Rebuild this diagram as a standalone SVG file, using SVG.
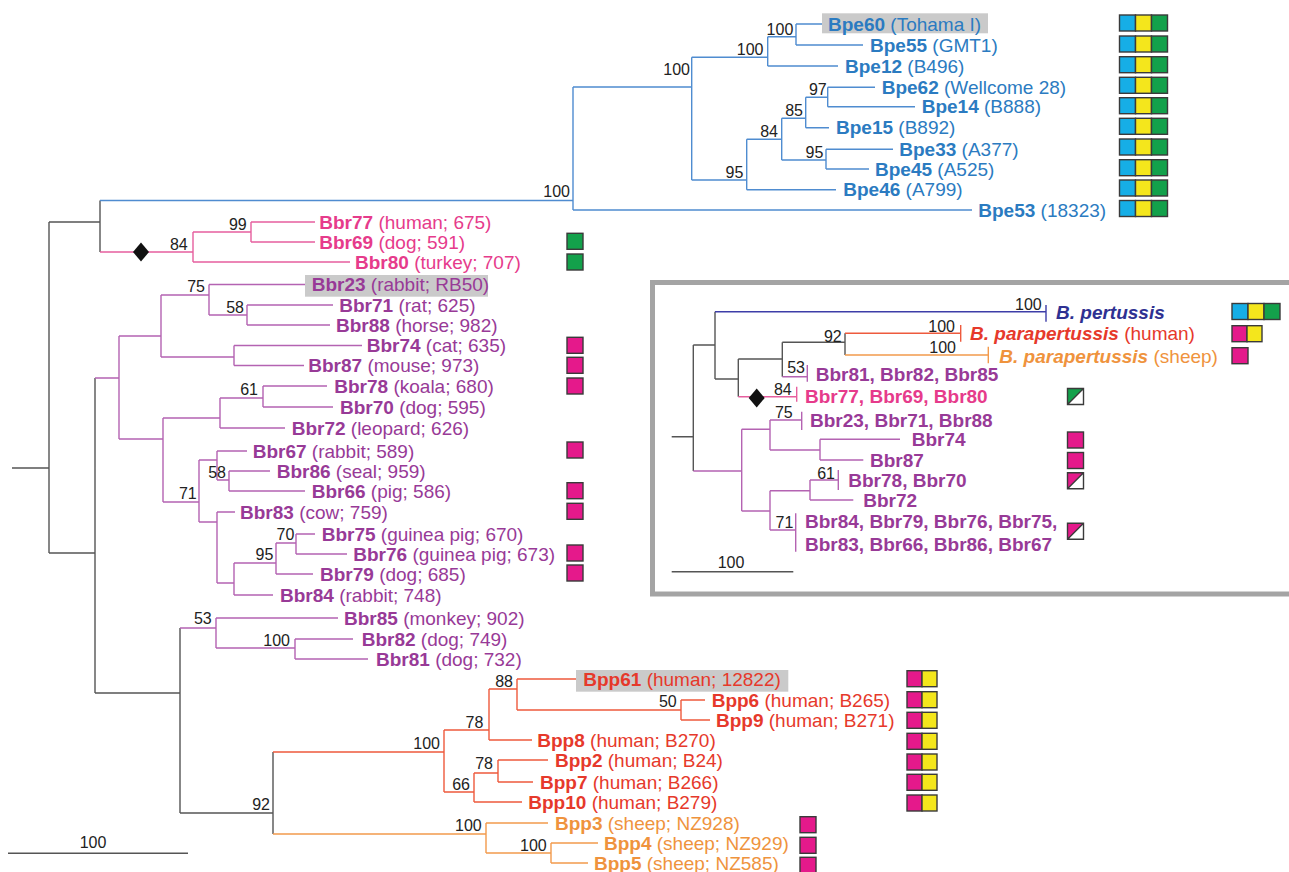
<svg xmlns="http://www.w3.org/2000/svg" xmlns:xlink="http://www.w3.org/1999/xlink" width="1289" height="872" viewBox="0 0 1289 872">
<style>
text{font-family:"Liberation Sans",Arial,sans-serif;font-size:19px}
.bs{font-size:16px;fill:#222;text-anchor:end}
.sc{font-size:16px;fill:#222;text-anchor:middle}
.b{font-weight:bold}
.bi{font-weight:bold;font-style:italic}
.tbpe{fill:#2b7bc1}.tpk{fill:#e63b8b}.tpu{fill:#983a97}.tred{fill:#e6392b}.torg{fill:#ef933d}.tnav{fill:#2e3192}
path{fill:none;stroke-width:1.4}
.lg{stroke:#555}.lb{stroke:#4f8cd0}.lp{stroke:#e65f9e}.lu{stroke:#b463b2}.lr{stroke:#ee5a3d}.lo{stroke:#f29a4c}.ln{stroke:#3d3da8}
.hl{fill:#cacaca}
.cell{stroke:#3a3a3a;stroke-width:1.4}
.cy{fill:#16aee6}.ye{fill:#f4e61c}.gr{fill:#13a14b}.mg{fill:#e5198b}.wh{fill:#fff}
.dk{fill:#111}
.dg{stroke:#3a3a3a}
</style>
<defs>
<g id="box3"><rect class="cell cy" x="0" y="0" width="16" height="16"/><rect class="cell ye" x="16" y="0" width="16" height="16"/><rect class="cell gr" x="32" y="0" width="16" height="16"/></g>
<g id="box2"><rect class="cell mg" x="0" y="0" width="15" height="16"/><rect class="cell ye" x="15" y="0" width="15" height="16"/></g>
<rect id="boxM" class="cell mg" x="0" y="0" width="16" height="16"/>
<rect id="boxG" class="cell gr" x="0" y="0" width="16" height="16"/>
<g id="diagG"><rect class="wh" x="0" y="0" width="16" height="16"/><polygon class="gr" points="0,0 16,0 0,16"/><path class="dg" d="M0 16L16 0M0 0H16V16H0Z"/></g>
<g id="diagM"><rect class="wh" x="0" y="0" width="16" height="16"/><polygon class="mg" points="0,0 16,0 0,16"/><path class="dg" d="M0 16L16 0M0 0H16V16H0Z"/></g>
<polygon id="dia" class="dk" points="0,-9.5 8,0 0,9.5 -8,0"/>
</defs>

<g id="connectors">
<path class="lg" d="M12 468H49M49 222V553M49 222H100M49 553H95M100 200.5V252M95 378V693M95 693H180M180 628V813M180 813H273M273 752V834"/>
<path class="lb" d="M100 200.5H573M573 87V210M573 87H691.7M691.7 57.3V180M691.7 57.3H767.7M767.7 36.7V66M767.7 36.7H796M796 24V45M796 24H822M796 45H863M767.7 66H838M691.7 180H746.7M746.7 139.3V189.7M746.7 139.3H781.7M781.7 118.3V160M781.7 118.3H805.7M805.7 97.3V127.7M805.7 97.3H827.7M827.7 87.3V106.7M827.7 87.3H875M827.7 106.7H915M805.7 127.7H829M781.7 160H826M826 149.3V169M826 149.3H893M826 169H869M746.7 189.7H836M573 210H972"/>
<path class="lp" d="M100 252H193M193 232V262M193 232H251M251 222V242M251 222H315M251 242H315M193 262H350"/>
<path class="lu" d="M95 378H119M119 336V439M119 336H161M161 295V357M161 295H209M209 284.5V315M209 284.5H305M209 315H247M247 305V325M247 305H333M247 325H330M161 357H234M234 345.5V365.5M234 345.5H362M234 365.5H304M119 439H163M163 418V502M163 418H220M220 398V428M220 398H263M263 386V407M263 386H327M263 407H333M220 428H285M163 502H199M199 460V522M199 460H217M217 451V480M217 451H247M217 480H229M229 471V491M229 471H270M229 491H305M199 522H217M217 512V583M217 512H235M217 583H234M234 563V595M234 563H276M276 543V574M276 543H296M296 534V554M296 534H315M296 554H347M276 574H313M234 595H273M180 628H216M216 618V648M216 618H338M216 648H295M295 639V659M295 639H353M295 659H368"/>
<path class="lr" d="M273 752H444M444 730V792M444 730H489M489 689V740M489 689H517M517 679V710M517 679H576M517 710H681M681 700V720M681 700H705M681 720H710M489 740H532M444 792H474M474 773V802M474 773H498M498 760V782M498 760H548M498 782H533M474 802H522"/>
<path class="lo" d="M273 834H486M486 823V853M486 823H548M486 853H551M551 843V863M551 843H598M551 863H588"/>
<path class="lg" d="M8 853.3H188"/>
<path class="lg" d="M671.7 436.7H693.3M693.3 345V471M693.3 345H715M715 311.7V379M715 379H738.3M738.3 359V396.7M738.3 359H782.3M782.3 342.3V376.7M782.3 342.3H845M845 333.3V355M671.7 571.7H793.3"/>
<path class="ln" d="M715 311.7H1046M1046 305V321.7"/>
<path class="lr" d="M845 333.3H960.7M960.7 325V341.7"/>
<path class="lo" d="M845 355H988.3M988.3 346.7V363.3"/>
<path class="lp" d="M738.3 396.7H796.7M796.7 386.7V401.7"/>
<path class="lu" d="M782.3 376.7H807.3M807.3 365V381.7M693.3 471H741.7M741.7 429.3V511M741.7 429.3H770M770 420V450M770 420H801.7M801.7 411.7V430M770 450H820M820 439.3V460M820 439.3H900M820 460H863.3M741.7 511H770M770 490.7V530M770 490.7H810M810 480V500M810 480H838.3M838.3 470V490M810 500H853.3M770 530H795.7M795.7 513.3V551.7"/>
<use xlink:href="#dia" href="#dia" x="141" y="252"/>
<use xlink:href="#dia" href="#dia" x="756.7" y="398"/>
</g>

<g id="bootstrap">
<text class="bs" x="570" y="197">100</text>
<text class="bs" x="690" y="75">100</text>
<text class="bs" x="763.5" y="55">100</text>
<text class="bs" x="793.3" y="35">100</text>
<text class="bs" x="826.7" y="95">97</text>
<text class="bs" x="803" y="116">85</text>
<text class="bs" x="778" y="137">84</text>
<text class="bs" x="823.3" y="157.5">95</text>
<text class="bs" x="743.3" y="178">95</text>
<text class="bs" x="246.7" y="229.5">99</text>
<text class="bs" x="187.7" y="250">84</text>
<text class="bs" x="205" y="292">75</text>
<text class="bs" x="244" y="312.7">58</text>
<text class="bs" x="258" y="395">61</text>
<text class="bs" x="226" y="478">58</text>
<text class="bs" x="196.7" y="498.5">71</text>
<text class="bs" x="294.3" y="540">70</text>
<text class="bs" x="273.3" y="560">95</text>
<text class="bs" x="211.7" y="624">53</text>
<text class="bs" x="290" y="646">100</text>
<text class="bs" x="513" y="686.7">88</text>
<text class="bs" x="676.7" y="707">50</text>
<text class="bs" x="483.3" y="728">78</text>
<text class="bs" x="440" y="749">100</text>
<text class="bs" x="493" y="769">78</text>
<text class="bs" x="470" y="790">66</text>
<text class="bs" x="270" y="810">92</text>
<text class="bs" x="481.7" y="831">100</text>
<text class="bs" x="546.7" y="851">100</text>
<text class="sc" x="93" y="848.3">100</text>
</g>

<g id="Bpe60"><rect class="hl" x="822" y="13.3" width="166" height="20"/><text class="tbpe" x="828" y="30.7"><tspan class="b">Bpe60</tspan> (Tohama I)</text><use href="#box3" x="1119.5" y="15"/></g>
<g id="Bpe55"><text class="tbpe" x="870" y="51.7"><tspan class="b">Bpe55</tspan> (GMT1)</text><use href="#box3" x="1119.5" y="36"/></g>
<g id="Bpe12"><text class="tbpe" x="845" y="72.7"><tspan class="b">Bpe12</tspan> (B496)</text><use href="#box3" x="1119.5" y="56.7"/></g>
<g id="Bpe62"><text class="tbpe" x="881.7" y="94"><tspan class="b">Bpe62</tspan> (Wellcome 28)</text><use href="#box3" x="1119.5" y="77.3"/></g>
<g id="Bpe14"><text class="tbpe" x="921.7" y="113.4"><tspan class="b">Bpe14</tspan> (B888)</text><use href="#box3" x="1119.5" y="97.7"/></g>
<g id="Bpe15"><text class="tbpe" x="836" y="134.4"><tspan class="b">Bpe15</tspan> (B892)</text><use href="#box3" x="1119.5" y="118.3"/></g>
<g id="Bpe33"><text class="tbpe" x="899.3" y="156"><tspan class="b">Bpe33</tspan> (A377)</text><use href="#box3" x="1119.5" y="139"/></g>
<g id="Bpe45"><text class="tbpe" x="875" y="175.7"><tspan class="b">Bpe45</tspan> (A525)</text><use href="#box3" x="1119.5" y="159.7"/></g>
<g id="Bpe46"><text class="tbpe" x="843.3" y="196.4"><tspan class="b">Bpe46</tspan> (A799)</text><use href="#box3" x="1119.5" y="180"/></g>
<g id="Bpe53"><text class="tbpe" x="978.3" y="216.7"><tspan class="b">Bpe53</tspan> (18323)</text><use href="#box3" x="1119.5" y="200.5"/></g>

<g id="Bbr77"><text class="tpk" x="319.3" y="228.7"><tspan class="b">Bbr77</tspan> (human; 675)</text></g>
<g id="Bbr69"><text class="tpk" x="319.3" y="248.7"><tspan class="b">Bbr69</tspan> (dog; 591)</text><use href="#boxG" x="567" y="233.3"/></g>
<g id="Bbr80"><text class="tpk" x="355" y="268.7"><tspan class="b">Bbr80</tspan> (turkey; 707)</text><use href="#boxG" x="567" y="254"/></g>
<g id="Bbr23"><rect class="hl" x="305" y="275" width="183" height="21.7"/><text class="tpu" x="311.7" y="291.2"><tspan class="b">Bbr23</tspan> (rabbit; RB50)</text></g>
<g id="Bbr71"><text class="tpu" x="339.3" y="311.7"><tspan class="b">Bbr71</tspan> (rat; 625)</text></g>
<g id="Bbr88"><text class="tpu" x="336" y="331.7"><tspan class="b">Bbr88</tspan> (horse; 982)</text></g>
<g id="Bbr74"><text class="tpu" x="366.7" y="352.2"><tspan class="b">Bbr74</tspan> (cat; 635)</text><use href="#boxM" x="567" y="337.3"/></g>
<g id="Bbr87"><text class="tpu" x="308.3" y="372.2"><tspan class="b">Bbr87</tspan> (mouse; 973)</text><use href="#boxM" x="567" y="357.3"/></g>
<g id="Bbr78"><text class="tpu" x="334.3" y="392.7"><tspan class="b">Bbr78</tspan> (koala; 680)</text><use href="#boxM" x="567" y="378"/></g>
<g id="Bbr70"><text class="tpu" x="340" y="413.7"><tspan class="b">Bbr70</tspan> (dog; 595)</text></g>
<g id="Bbr72"><text class="tpu" x="291.7" y="434.7"><tspan class="b">Bbr72</tspan> (leopard; 626)</text></g>
<g id="Bbr67"><text class="tpu" x="252.7" y="457.7"><tspan class="b">Bbr67</tspan> (rabbit; 589)</text><use href="#boxM" x="567" y="442"/></g>
<g id="Bbr86"><text class="tpu" x="276.7" y="477.7"><tspan class="b">Bbr86</tspan> (seal; 959)</text></g>
<g id="Bbr66"><text class="tpu" x="311.7" y="497.7"><tspan class="b">Bbr66</tspan> (pig; 586)</text><use href="#boxM" x="567" y="482.7"/></g>
<g id="Bbr83"><text class="tpu" x="240" y="518.7"><tspan class="b">Bbr83</tspan> (cow; 759)</text><use href="#boxM" x="567" y="503.3"/></g>
<g id="Bbr75"><text class="tpu" x="321.7" y="540.7"><tspan class="b">Bbr75</tspan> (guinea pig; 670)</text></g>
<g id="Bbr76"><text class="tpu" x="353.3" y="560.7"><tspan class="b">Bbr76</tspan> (guinea pig; 673)</text><use href="#boxM" x="567" y="545"/></g>
<g id="Bbr79"><text class="tpu" x="320" y="580.7"><tspan class="b">Bbr79</tspan> (dog; 685)</text><use href="#boxM" x="567" y="565"/></g>
<g id="Bbr84"><text class="tpu" x="280" y="601.7"><tspan class="b">Bbr84</tspan> (rabbit; 748)</text></g>
<g id="Bbr85"><text class="tpu" x="344" y="624.7"><tspan class="b">Bbr85</tspan> (monkey; 902)</text></g>
<g id="Bbr82"><text class="tpu" x="361.7" y="645.7"><tspan class="b">Bbr82</tspan> (dog; 749)</text></g>
<g id="Bbr81"><text class="tpu" x="376" y="665.7"><tspan class="b">Bbr81</tspan> (dog; 732)</text></g>

<g id="Bpp61"><rect class="hl" x="576" y="670" width="212.3" height="21.7"/><text class="tred" x="583.3" y="685.7"><tspan class="b">Bpp61</tspan> (human; 12822)</text><use href="#box2" x="907" y="670.7"/></g>
<g id="Bpp6"><text class="tred" x="711.7" y="706.7"><tspan class="b">Bpp6</tspan> (human; B265)</text><use href="#box2" x="907" y="691.7"/></g>
<g id="Bpp9"><text class="tred" x="716" y="726.7"><tspan class="b">Bpp9</tspan> (human; B271)</text><use href="#box2" x="907" y="712.3"/></g>
<g id="Bpp8"><text class="tred" x="537.3" y="746.7"><tspan class="b">Bpp8</tspan> (human; B270)</text><use href="#box2" x="907" y="733.3"/></g>
<g id="Bpp2"><text class="tred" x="555" y="766.7"><tspan class="b">Bpp2</tspan> (human; B24)</text><use href="#box2" x="907" y="754"/></g>
<g id="Bpp7"><text class="tred" x="540" y="788.7"><tspan class="b">Bpp7</tspan> (human; B266)</text><use href="#box2" x="907" y="774.3"/></g>
<g id="Bpp10"><text class="tred" x="528.3" y="808.7"><tspan class="b">Bpp10</tspan> (human; B279)</text><use href="#box2" x="907" y="795"/></g>
<g id="Bpp3"><text class="torg" x="555" y="829.7"><tspan class="b">Bpp3</tspan> (sheep; NZ928)</text><use href="#boxM" x="800" y="816.7"/></g>
<g id="Bpp4"><text class="torg" x="604" y="849.7"><tspan class="b">Bpp4</tspan> (sheep; NZ929)</text><use href="#boxM" x="800" y="837.3"/></g>
<g id="Bpp5"><text class="torg" x="594" y="869.7"><tspan class="b">Bpp5</tspan> (sheep; NZ585)</text><use href="#boxM" x="800" y="857.3"/></g>

<g id="inset">
<rect x="652.5" y="282.5" width="650" height="311.5" fill="none" stroke="#a4a4a4" stroke-width="5"/>
<text class="bs" x="1041.7" y="310">100</text>
<text class="bs" x="955" y="331.5">100</text>
<text class="bs" x="956" y="353">100</text>
<text class="bs" x="841.7" y="341.5">92</text>
<text class="bs" x="805" y="373.3">53</text>
<text class="bs" x="791.7" y="395">84</text>
<text class="bs" x="792.7" y="418.3">75</text>
<text class="bs" x="835" y="479">61</text>
<text class="bs" x="793.3" y="528">71</text>
<text class="sc" x="731" y="568.3">100</text>
<g id="in-pertussis"><text class="tnav bi" x="1056" y="319">B. pertussis</text><use href="#box3" x="1232" y="303.5"/></g>
<g id="in-para-human"><text class="tred" x="970" y="340"><tspan class="bi">B. parapertussis</tspan> (human)</text><use href="#box2" x="1232" y="325.7"/></g>
<g id="in-para-sheep"><text class="torg" x="999.3" y="362.7"><tspan class="bi">B. parapertussis</tspan> (sheep)</text><use href="#boxM" x="1232" y="347.7"/></g>
<g id="in-bbr81"><text class="tpu b" x="815.7" y="380.7">Bbr81, Bbr82, Bbr85</text></g>
<g id="in-bbr77"><text class="tpk b" x="805" y="403.4">Bbr77, Bbr69, Bbr80</text><use href="#diagG" x="1067.5" y="388.5"/></g>
<g id="in-bbr23"><text class="tpu b" x="810" y="426.7">Bbr23, Bbr71, Bbr88</text></g>
<g id="in-bbr74"><text class="tpu b" x="911.7" y="446">Bbr74</text><use href="#boxM" x="1067.5" y="432"/></g>
<g id="in-bbr87"><text class="tpu b" x="870" y="466.7">Bbr87</text><use href="#boxM" x="1067.5" y="452.5"/></g>
<g id="in-bbr78"><text class="tpu b" x="848.3" y="486.7">Bbr78, Bbr70</text><use href="#diagM" x="1067.5" y="472.7"/></g>
<g id="in-bbr72"><text class="tpu b" x="863.3" y="506.7">Bbr72</text></g>
<g id="in-bbr84"><text class="tpu b" x="805" y="527.7">Bbr84, Bbr79, Bbr76, Bbr75,</text><text class="tpu b" x="805" y="551">Bbr83, Bbr66, Bbr86, Bbr67</text><use href="#diagM" x="1067.5" y="523.3"/></g>
</g>
</svg>
